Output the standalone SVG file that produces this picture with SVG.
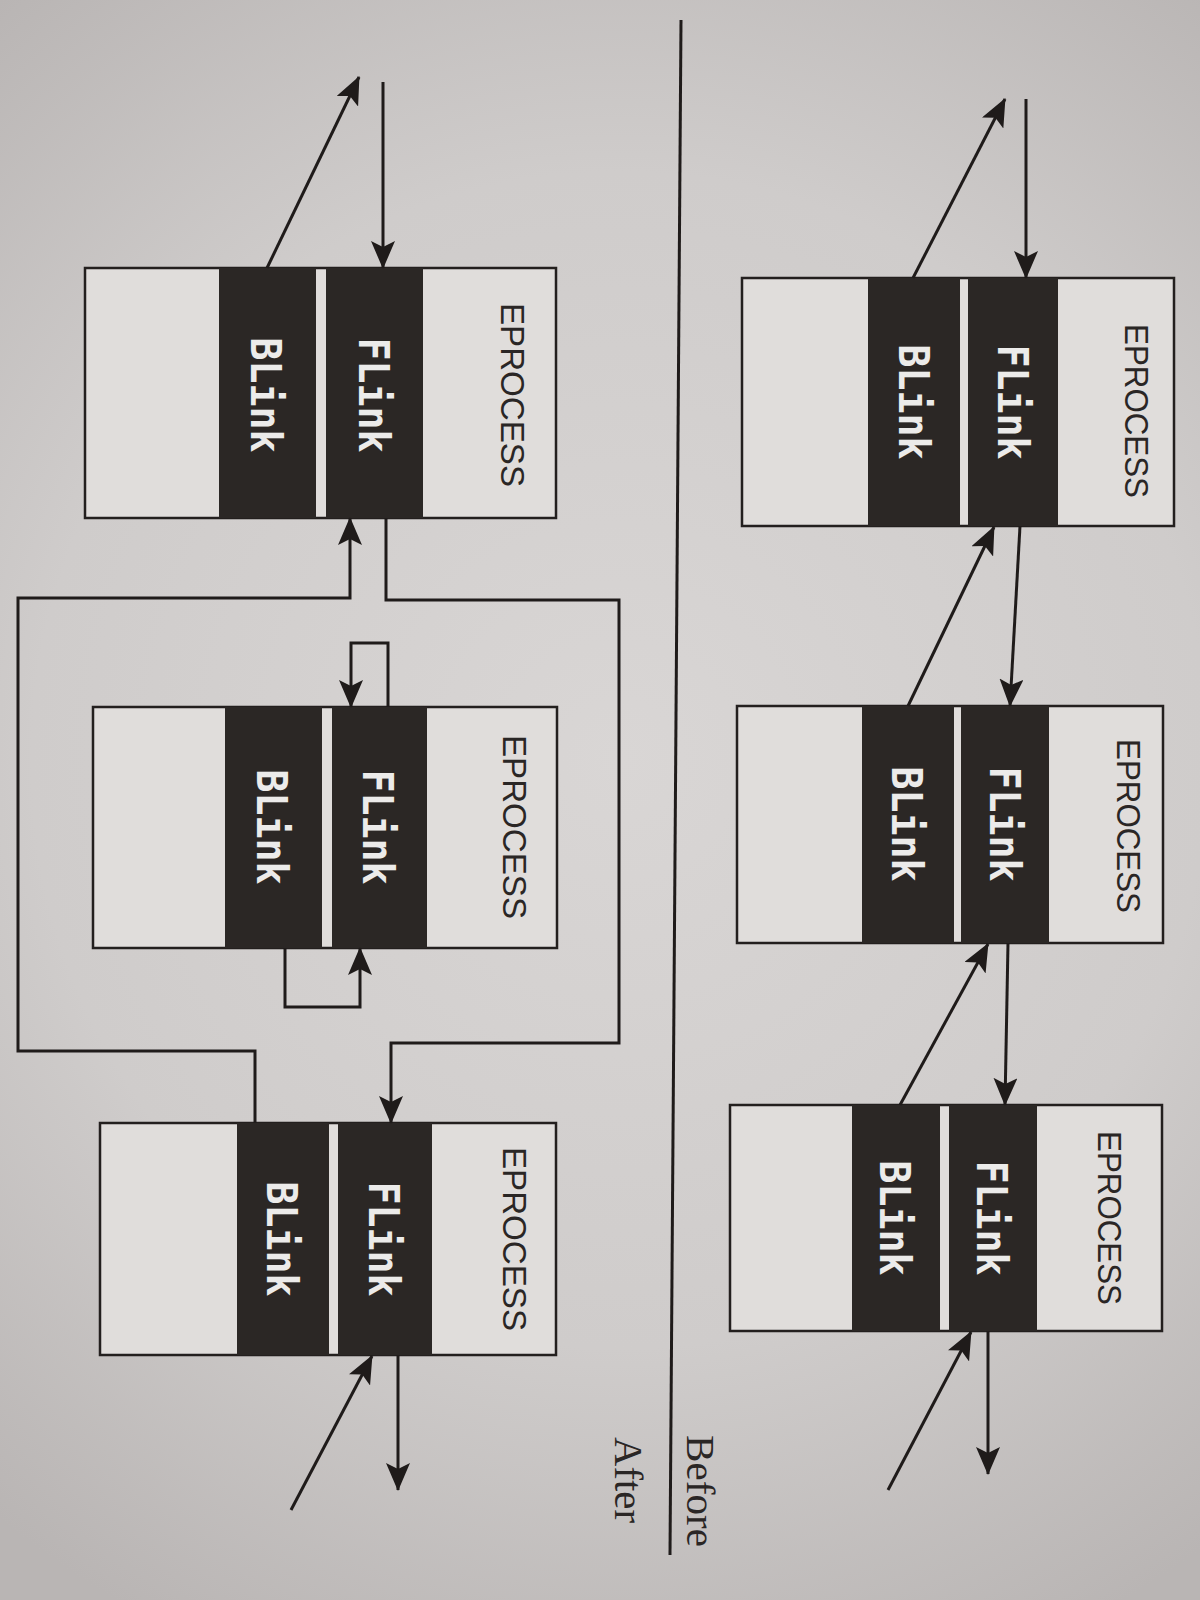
<svg xmlns="http://www.w3.org/2000/svg" width="1200" height="1600" viewBox="0 0 1200 1600">
<defs>
<radialGradient id="bg" cx="620" cy="760" r="980" gradientUnits="userSpaceOnUse">
<stop offset="0" stop-color="#d9d6d5"/>
<stop offset="0.6" stop-color="#cfcccb"/>
<stop offset="1" stop-color="#b9b5b4"/>
</radialGradient>
<marker id="ah" viewBox="0 0 28 24" refX="27" refY="12" markerWidth="28" markerHeight="24" markerUnits="userSpaceOnUse" orient="auto">
<path d="M0,0 L28,12 L0,24 L6,12 z" fill="#1f1b1a"/>
</marker>
<style>
.box{fill:#e0dddb;stroke:#231f1e;stroke-width:2.5}
.band{fill:#2b2725}
.ep{font-family:"Liberation Sans","DejaVu Sans",sans-serif;font-size:33px;fill:#2a2625}
.lk{font-family:"DejaVu Sans Mono","Liberation Mono",monospace;font-weight:bold;font-size:42px;fill:#ecebea}
.ln{fill:none;stroke:#1f1b1a;stroke-width:3}
.lab{font-family:"Liberation Serif","DejaVu Serif",serif;font-size:40px;fill:#2a2625}
</style>
</defs>
<rect x="0" y="0" width="1200" height="1600" fill="url(#bg)"/>

<g id="divider">
<line x1="681" y1="20" x2="670" y2="1555" stroke="#1f1b1a" stroke-width="3"/>
<text class="lab" transform="translate(687,1435) rotate(90)" textLength="112" lengthAdjust="spacingAndGlyphs">Before</text>
<text class="lab" transform="translate(615,1437) rotate(90)" textLength="86" lengthAdjust="spacingAndGlyphs">After</text>
</g>

<!-- Before side -->
<g id="before-1">
<rect class="box" x="742" y="278" width="432" height="248"/>
<rect class="band" x="868" y="278" width="92" height="248"/>
<rect class="band" x="968" y="278" width="90" height="248"/>
<text class="lk" transform="translate(998,402) rotate(90)" text-anchor="middle" textLength="115" lengthAdjust="spacingAndGlyphs">FLink</text>
<text class="lk" transform="translate(899,402) rotate(90)" text-anchor="middle" textLength="115" lengthAdjust="spacingAndGlyphs">BLink</text>
<text class="ep" transform="translate(1125,411) rotate(90)" text-anchor="middle" textLength="174" lengthAdjust="spacingAndGlyphs">EPROCESS</text>
</g>
<g id="before-2">
<rect class="box" x="737" y="706" width="426" height="237"/>
<rect class="band" x="862" y="706" width="92" height="237"/>
<rect class="band" x="961" y="706" width="88" height="237"/>
<text class="lk" transform="translate(990,824) rotate(90)" text-anchor="middle" textLength="115" lengthAdjust="spacingAndGlyphs">FLink</text>
<text class="lk" transform="translate(892,824) rotate(90)" text-anchor="middle" textLength="115" lengthAdjust="spacingAndGlyphs">BLink</text>
<text class="ep" transform="translate(1117,826) rotate(90)" text-anchor="middle" textLength="174" lengthAdjust="spacingAndGlyphs">EPROCESS</text>
</g>
<g id="before-3">
<rect class="box" x="730" y="1105" width="432" height="226"/>
<rect class="band" x="852" y="1105" width="88" height="226"/>
<rect class="band" x="949" y="1105" width="88" height="226"/>
<text class="lk" transform="translate(977,1218) rotate(90)" text-anchor="middle" textLength="115" lengthAdjust="spacingAndGlyphs">FLink</text>
<text class="lk" transform="translate(880,1218) rotate(90)" text-anchor="middle" textLength="115" lengthAdjust="spacingAndGlyphs">BLink</text>
<text class="ep" transform="translate(1098,1218) rotate(90)" text-anchor="middle" textLength="174" lengthAdjust="spacingAndGlyphs">EPROCESS</text>
</g>

<!-- After side -->
<g id="after-1">
<rect class="box" x="85" y="268" width="471" height="250"/>
<rect class="band" x="219" y="268" width="97" height="250"/>
<rect class="band" x="326" y="268" width="97" height="250"/>
<text class="lk" transform="translate(359,395) rotate(90)" text-anchor="middle" textLength="115" lengthAdjust="spacingAndGlyphs">FLink</text>
<text class="lk" transform="translate(251,395) rotate(90)" text-anchor="middle" textLength="115" lengthAdjust="spacingAndGlyphs">BLink</text>
<text class="ep" transform="translate(501,395) rotate(90)" text-anchor="middle" textLength="184" lengthAdjust="spacingAndGlyphs">EPROCESS</text>
</g>
<g id="after-2">
<rect class="box" x="93" y="707" width="464" height="241"/>
<rect class="band" x="225" y="707" width="97" height="241"/>
<rect class="band" x="332" y="707" width="95" height="241"/>
<text class="lk" transform="translate(363,827) rotate(90)" text-anchor="middle" textLength="115" lengthAdjust="spacingAndGlyphs">FLink</text>
<text class="lk" transform="translate(257,827) rotate(90)" text-anchor="middle" textLength="115" lengthAdjust="spacingAndGlyphs">BLink</text>
<text class="ep" transform="translate(503,827) rotate(90)" text-anchor="middle" textLength="184" lengthAdjust="spacingAndGlyphs">EPROCESS</text>
</g>
<g id="after-3">
<rect class="box" x="100" y="1123" width="456" height="232"/>
<rect class="band" x="237" y="1123" width="92" height="232"/>
<rect class="band" x="338" y="1123" width="94" height="232"/>
<text class="lk" transform="translate(369,1239) rotate(90)" text-anchor="middle" textLength="115" lengthAdjust="spacingAndGlyphs">FLink</text>
<text class="lk" transform="translate(267,1239) rotate(90)" text-anchor="middle" textLength="115" lengthAdjust="spacingAndGlyphs">BLink</text>
<text class="ep" transform="translate(503,1239) rotate(90)" text-anchor="middle" textLength="184" lengthAdjust="spacingAndGlyphs">EPROCESS</text>
</g>

<g id="connectors">
<!-- Before -->
<line class="ln" x1="913" y1="278" x2="1005" y2="99" marker-end="url(#ah)"/>
<line class="ln" x1="1026" y1="99" x2="1026" y2="278" marker-end="url(#ah)"/>
<line class="ln" x1="1020" y1="526" x2="1010" y2="706" marker-end="url(#ah)"/>
<line class="ln" x1="908" y1="706" x2="994" y2="527" marker-end="url(#ah)"/>
<line class="ln" x1="1008" y1="943" x2="1005" y2="1105" marker-end="url(#ah)"/>
<line class="ln" x1="900" y1="1105" x2="988" y2="944" marker-end="url(#ah)"/>
<line class="ln" x1="988" y1="1331" x2="988" y2="1474" marker-end="url(#ah)"/>
<line class="ln" x1="888" y1="1490" x2="971" y2="1332" marker-end="url(#ah)"/>
<!-- After -->
<line class="ln" x1="267" y1="268" x2="359" y2="77" marker-end="url(#ah)"/>
<line class="ln" x1="383" y1="82" x2="383" y2="268" marker-end="url(#ah)"/>
<path class="ln" d="M386,518 V600 H619 V1043 H391 V1123" marker-end="url(#ah)"/>
<path class="ln" d="M255,1123 V1051 H18 V598 H350 V518" marker-end="url(#ah)"/>
<path class="ln" d="M388,707 V643 H351 V707" marker-end="url(#ah)"/>
<path class="ln" d="M285,948 V1007 H360 V948" marker-end="url(#ah)"/>
<line class="ln" x1="398" y1="1355" x2="398" y2="1490" marker-end="url(#ah)"/>
<line class="ln" x1="291" y1="1510" x2="372" y2="1356" marker-end="url(#ah)"/>
</g>
</svg>
